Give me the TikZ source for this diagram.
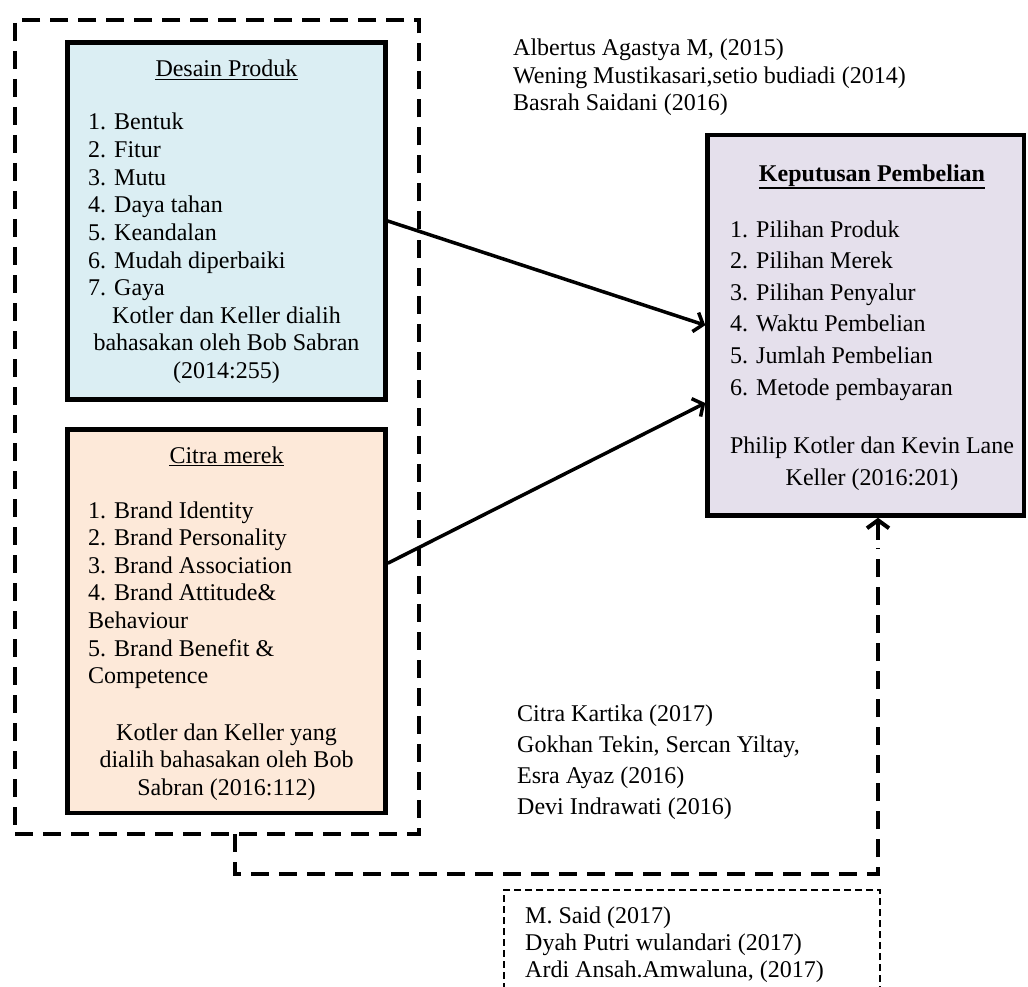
\documentclass[tikz,border=0pt]{standalone}
\usepackage{fontspec}
\setmainfont{Liberation Serif}
\usetikzlibrary{arrows.meta}
\definecolor{dpfill}{HTML}{DBEEF3}
\definecolor{cmfill}{HTML}{FDE9D9}
\definecolor{kpfill}{HTML}{E5E0EC}
\tikzset{
 box/.style={draw=black, line width=4.5pt, rectangle, inner sep=0pt},
 tl/.style={font=\fontsize{24}{27.6}\selectfont, inner sep=0pt, anchor=base west},
 tc/.style={font=\fontsize{24}{27.6}\selectfont, inner sep=0pt, anchor=base},
 uline/.style={line width=1.4pt},
 arr/.style={line width=3.5pt, -{Straight Barb[length=8pt,width=20pt]}},
 bigdash/.style={line width=4pt, dash pattern=on 18pt off 10pt},
 thindash/.style={line width=1.5pt, dash pattern=on 7pt off 4pt},
}
\begin{document}
\begin{tikzpicture}[x=1pt,y=-1pt]
\useasboundingbox (0,0) rectangle (1028,987);
\clip (0,0) rectangle (1028,987);
\fill[white] (0,0) rectangle (1028,987);

% outer dashed group
\node[draw, bigdash, rectangle, inner sep=0pt, outer sep=0pt, minimum width=403.5pt, minimum height=814pt] (grp) at (216.75,427) {};

% boxes
\node[box, fill=dpfill, minimum width=318pt, minimum height=357pt] (dp) at (226.5,221) {};
\node[box, fill=cmfill, minimum width=318pt, minimum height=383.5pt] (cm) at (226.5,621.25) {};
\node[box, fill=kpfill, minimum width=316.5pt, minimum height=380.5pt] (kp) at (865.75,325.25) {};

% thin dashed reference box (cut off at bottom)
\node[draw, thindash, rectangle, inner sep=0pt, outer sep=0pt, minimum width=376pt, minimum height=200pt, anchor=north west] (refs) at (504,890) {};

% Desain Produk text
\node[tc] (dpt) at (226.5,77) {Desain Produk};
\draw[uline] ([yshift=-2.5pt]dpt.base west) -- ([yshift=-2.5pt]dpt.base east);
\node[tl] (dp1) at (88,130) {1. Bentuk};
\node[tl] (dp2) at (88,157.6) {2. Fitur};
\node[tl] (dp3) at (88,185.2) {3. Mutu};
\node[tl] (dp4) at (88,212.8) {4. Daya tahan};
\node[tl] (dp5) at (88,240.4) {5. Keandalan};
\node[tl] (dp6) at (88,268) {6. Mudah diperbaiki};
\node[tl] (dp7) at (88,295.6) {7. Gaya};
\node[tc] (dps1) at (226.5,323.2) {Kotler dan Keller dialih};
\node[tc] (dps2) at (226.5,350.8) {bahasakan oleh Bob Sabran};
\node[tc] (dps3) at (226.5,378.4) {(2014:255)};

% Citra merek text
\node[tc] (cmt) at (226.5,463) {Citra merek};
\draw[uline] ([yshift=-2.5pt]cmt.base west) -- ([yshift=-2.5pt]cmt.base east);
\node[tl] (cm1) at (88,518) {1. Brand Identity};
\node[tl] (cm2) at (88,545.6) {2. Brand Personality};
\node[tl] (cm3) at (88,573.2) {3. Brand Association};
\node[tl] (cm4) at (88,600.8) {4. Brand Attitude\&};
\node[tl] (cm4b) at (88,628.4) {Behaviour};
\node[tl] (cm5) at (88,656) {5. Brand Benefit \&};
\node[tl] (cm5b) at (88,683.6) {Competence};
\node[tc] (cms1) at (226.5,740) {Kotler dan Keller yang};
\node[tc] (cms2) at (226.5,767.6) {dialih bahasakan oleh Bob};
\node[tc] (cms3) at (226.5,795.2) {Sabran (2016:112)};

% Keputusan Pembelian text
\node[tc] (kpt) at (872,182) {\bfseries Keputusan Pembelian};
\draw[uline, line width=2pt] ([yshift=-6pt]kpt.base west) -- ([yshift=-6pt]kpt.base east);
\node[tl] (kp1) at (730,237) {1. Pilihan Produk};
\node[tl] (kp2) at (730,268.6) {2. Pilihan Merek};
\node[tl] (kp3) at (730,300.2) {3. Pilihan Penyalur};
\node[tl] (kp4) at (730,331.8) {4. Waktu Pembelian};
\node[tl] (kp5) at (730,363.4) {5. Jumlah Pembelian};
\node[tl] (kp6) at (730,395) {6. Metode pembayaran};
\node[tc] (kps1) at (872,453) {Philip Kotler dan Kevin Lane};
\node[tc] (kps2) at (872,485) {Keller (2016:201)};

% citations top
\node[tl] (ra1) at (513,56) {Albertus Agastya M, (2015)};
\node[tl] (ra2) at (513,83.5) {Wening Mustikasari,setio budiadi (2014)};
\node[tl] (ra3) at (513,111) {Basrah Saidani (2016)};

% citations middle
\node[tl] (rb1) at (517,721) {Citra Kartika (2017)};
\node[tl] (rb2) at (517,752) {Gokhan Tekin, Sercan Yiltay,};
\node[tl] (rb3) at (517,783) {Esra Ayaz (2016)};
\node[tl] (rb4) at (517,814) {Devi Indrawati (2016)};

% citations bottom
\node[tl] (rc1) at (525,923) {M. Said (2017)};
\node[tl] (rc2) at (525,950) {Dyah Putri wulandari (2017)};
\node[tl] (rc3) at (525,977) {Ardi Ansah.Amwaluna, (2017)};

% arrows
\draw[arr] (dp.east) -- (kp.west);
\draw[arr] ([yshift=58pt]cm.east) -- ([yshift=-77.75pt]kp.west);

% dashed connector from group to Keputusan
\coordinate (gs) at (235,834);
\coordinate (cb) at (878,874);
\coordinate (tipstart) at ([yshift=-22pt]cb |- kp.south);
\draw[bigdash, shorten >=30pt] (gs) -- (gs |- cb) -- (cb) -- (cb |- kp.south);
\draw[line width=4pt, -{Straight Barb[length=8pt,width=22pt]}] (tipstart) -- (cb |- kp.south);
\end{tikzpicture}
\end{document}
